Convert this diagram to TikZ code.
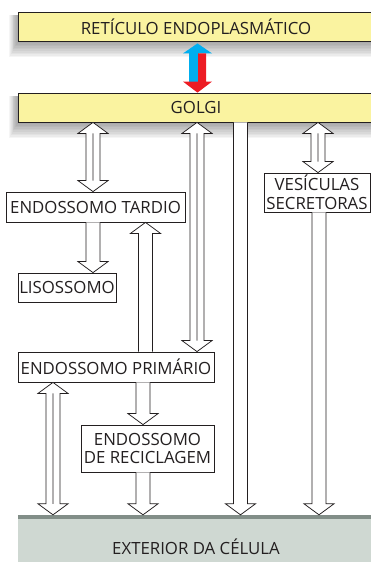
\documentclass[tikz,border=0pt]{standalone}
\usepackage{fontspec}
\setmainfont{Open Sans}
\usetikzlibrary{calc}
\definecolor{yel}{RGB}{250,243,160}
\definecolor{extc}{RGB}{207,216,210}
\definecolor{extline}{RGB}{130,142,136}
\definecolor{cyanA}{RGB}{0,174,239}
\definecolor{redA}{RGB}{237,28,36}
\definecolor{ink}{RGB}{35,31,32}
\newcommand\ArrDown[3]{\draw[hol] let \p1=(#2),\p2=(#3) in
  (#1pt-7pt,\y1) -- (#1pt-7pt,\y2+11pt) -- (#1pt-15pt,\y2+11pt) -- (#1pt,\y2)
  -- (#1pt+15pt,\y2+11pt) -- (#1pt+7pt,\y2+11pt) -- (#1pt+7pt,\y1);}
\newcommand\ArrUp[3]{\draw[hol] let \p1=(#2),\p2=(#3) in
  (#1pt-7pt,\y2) -- (#1pt-7pt,\y1-11pt) -- (#1pt-15pt,\y1-11pt) -- (#1pt,\y1)
  -- (#1pt+15pt,\y1-11pt) -- (#1pt+7pt,\y1-11pt) -- (#1pt+7pt,\y2);}
\newcommand\ArrBoth[3]{\draw[hol] let \p1=(#2),\p2=(#3) in
  (#1pt,\y1) -- (#1pt+15pt,\y1-11pt) -- (#1pt+7pt,\y1-11pt) -- (#1pt+7pt,\y2+11pt)
  -- (#1pt+15pt,\y2+11pt) -- (#1pt,\y2) -- (#1pt-15pt,\y2+11pt) -- (#1pt-7pt,\y2+11pt)
  -- (#1pt-7pt,\y1-11pt) -- (#1pt-15pt,\y1-11pt) -- cycle
  (#1pt,\y1-11pt) -- (#1pt,\y2+11pt);}
\newcommand\BoxShadow[4]{\foreach \r in {0,...,9}
  {\fill[black,opacity=0.04] (#1-1-\r*0.9,#2+3) rectangle (#3,#4+2+\r*1.6);}}
\begin{document}
\begin{tikzpicture}[x=1pt,y=-1pt,
  lbl/.style={font=\fontsize{16.8}{18.5}\selectfont,text=ink,align=center},
  box/.style={lbl,draw=ink,line width=0.8pt,fill=white,inner sep=0pt},
  ybox/.style={box,fill=yel},
  hol/.style={draw=ink,line width=0.75pt,fill=white,line join=miter}]
\useasboundingbox (0,0) rectangle (371,562);
% shadows
\BoxShadow{18}{12}{374}{41}
\BoxShadow{18}{93}{374}{122}
% boxes
\node[ybox,minimum width=356pt,minimum height=29pt] (re) at (196,26.5) {RETÍCULO ENDOPLASMÁTICO};
\node[ybox,minimum width=356pt,minimum height=29pt] (golgi) at (196,107.5) {GOLGI};
\node[box,minimum width=179pt,minimum height=30pt] (tardio) at (95.5,207) {ENDOSSOMO TARDIO};
\node[box,minimum width=98pt,minimum height=29pt] (liso) at (67,287.5) {LISOSSOMO};
\node[box,minimum width=106pt,minimum height=39pt] (vesic) at (317,192.5) {VESÍCULAS\\SECRETORAS};
\node[box,minimum width=196pt,minimum height=30pt] (prim) at (116,367) {ENDOSSOMO PRIMÁRIO};
\node[box,minimum width=133pt,minimum height=47pt] (recic) at (147.5,448.5) {ENDOSSOMO\\DE RECICLAGEM};
\node[lbl,fill=extc,minimum width=356pt,minimum height=64pt,inner sep=0pt] (ext) at (196,547) {EXTERIOR DA CÉLULA};
\fill[extline] (ext.north west) rectangle ($(ext.north east)+(0,4.5)$);
% ER <-> Golgi
\fill[cyanA] let \p1=(re.south),\p2=(golgi.north) in
  (197.5pt,\y1-2pt) -- (212pt,\y1-12pt) -- (198.5pt,\y1-12pt) -- (198.5pt,\y2+10pt)
  -- (189pt,\y2+10pt) -- (189pt,\y1-12pt) -- (183pt,\y1-12pt) -- cycle;
\fill[redA] let \p1=(re.south),\p2=(golgi.north) in
  (198pt,\y1-12pt) -- (206pt,\y1-12pt) -- (206pt,\y2+11pt) -- (212pt,\y2+11pt)
  -- (197.5pt,\y2) -- (183pt,\y2+11pt) -- (198pt,\y2+11pt) -- cycle;
% hollow arrows
\ArrBoth{93}{golgi.south}{tardio.north}
\ArrDown{93}{tardio.south}{liso.north}
\ArrUp{145.5}{tardio.south}{prim.north}
\ArrBoth{197}{golgi.south}{prim.north}
\ArrDown{240.5}{golgi.south}{ext.north}
\ArrBoth{318}{golgi.south}{vesic.north}
\ArrDown{319}{vesic.south}{ext.north}
\ArrBoth{53}{prim.south}{ext.north}
\ArrDown{143}{prim.south}{recic.north}
\ArrDown{143}{recic.south}{ext.north}
\end{tikzpicture}
\end{document}
